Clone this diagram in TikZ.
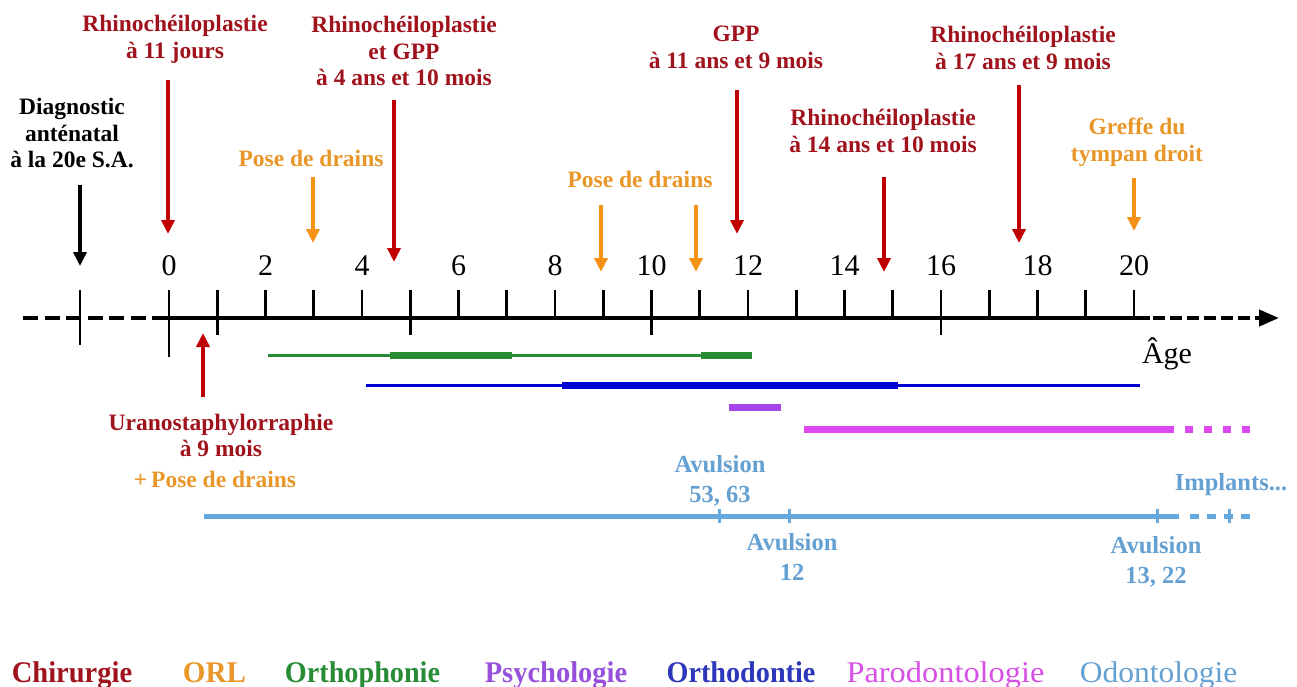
\documentclass[tikz,border=0pt]{standalone}
\usepackage{fontspec}
\setmainfont{Liberation Serif}
\usetikzlibrary{arrows.meta}
\definecolor{chir}{RGB}{160,18,28}
\definecolor{chirarr}{RGB}{192,0,0}
\definecolor{orl}{RGB}{232,150,40}
\definecolor{orlarr}{RGB}{245,145,20}
\definecolor{ortho}{RGB}{40,140,55}
\definecolor{psy}{RGB}{150,80,220}
\definecolor{psyline}{RGB}{165,70,235}
\definecolor{orthod}{RGB}{45,55,185}
\definecolor{orthodline}{RGB}{0,0,210}
\definecolor{paro}{RGB}{215,80,230}
\definecolor{paroline}{RGB}{222,72,240}
\definecolor{odonto}{RGB}{100,160,210}
\definecolor{odontoline}{RGB}{100,168,222}
\newcommand{\lablines}[1]{\begin{tabular}[t]{@{}c@{}}#1\end{tabular}}
\begin{document}
\begin{tikzpicture}[x=1pt,y=-1pt,
  lbl/.style={font=\bfseries\fontsize{23.5}{26.5}\selectfont, inner sep=0pt, anchor=base},
  odlbl/.style={font=\bfseries\fontsize{24.5}{30}\selectfont, inner sep=0pt, anchor=base, text=odonto},
  num/.style={font=\fontsize{30}{36}\selectfont, inner sep=0pt, anchor=base},
  leg/.style={font=\bfseries\fontsize{30}{34}\selectfont, inner sep=0pt, anchor=base},
  legreg/.style={font=\fontsize{30}{34}\selectfont, inner sep=0pt, anchor=base},
  evarrow/.style={line width=3.5pt, -{Triangle[width=13pt,length=14pt]}},
  tick/.style={line width=2.6pt, black},
  axisline/.style={line width=4pt, black},
  thinbar/.style={line width=3pt, line cap=butt},
  thickbar/.style={line width=7pt, line cap=butt}
]
\useasboundingbox (0,0) rectangle (1297,687);

% ---------------- axis ----------------
\draw[axisline] (152,318) -- (1150,318);
\draw[axisline, dash pattern=on 15pt off 6.5pt] (23,318) -- (150,318);
\draw[axisline, dash pattern=on 11.5pt off 5.5pt, -{Triangle[width=16pt,length=20pt]}] (1153,318) -- (1279,318);
\foreach \t in {0,...,20} \draw[tick] ({169+48.25*\t},290) -- ({169+48.25*\t},318);
\draw[tick] (169,318) -- (169,357);
\foreach \t in {1,5,10,16} \draw[tick] ({169+48.25*\t},318) -- ({169+48.25*\t},335);
\draw[tick] (80,290) -- (80,345);
\foreach \t in {0,2,...,20} \node[num] (n\t) at ({169+48.25*\t},275) {\t};
\node[num] (age) at (1167,363) {Âge};

% ---------------- top labels and arrows ----------------
\node[lbl, text=black] (diag) at (72,115) {\lablines{Diagnostic\\anténatal\\à la 20e S.A.}};
\coordinate (diagS) at (80,185); \coordinate (diagE) at (80,266);
\draw[evarrow, black] (diagS) -- (diagE);

\node[lbl, text=chir] (rh1) at (175,32) {\lablines{Rhinochéiloplastie\\à 11 jours}};
\coordinate (rh1S) at (168,80); \coordinate (rh1E) at (168,234);
\draw[evarrow, chirarr] (rh1S) -- (rh1E);

\node[lbl, text=orl] (pd1) at (311,167) {Pose de drains};
\coordinate (pd1S) at (313,177); \coordinate (pd1E) at (313,243);
\draw[evarrow, orlarr] (pd1S) -- (pd1E);

\node[lbl, text=chir] (rh2) at (404,33) {\lablines{Rhinochéiloplastie\\et GPP\\à 4 ans et 10 mois}};
\coordinate (rh2S) at (394,100); \coordinate (rh2E) at (394,262);
\draw[evarrow, chirarr] (rh2S) -- (rh2E);

\node[lbl, text=orl] (pd2) at (640,187) {Pose de drains};
\coordinate (pd2aS) at (601,205); \coordinate (pd2aE) at (601,272);
\coordinate (pd2bS) at (696,205); \coordinate (pd2bE) at (696,272);
\draw[evarrow, orlarr] (pd2aS) -- (pd2aE);
\draw[evarrow, orlarr] (pd2bS) -- (pd2bE);

\node[lbl, text=chir] (gpp) at (736,42) {\lablines{GPP\\à 11 ans et 9 mois}};
\coordinate (gppS) at (737,90); \coordinate (gppE) at (737,234);
\draw[evarrow, chirarr] (gppS) -- (gppE);

\node[lbl, text=chir] (rh3) at (883,126) {\lablines{Rhinochéiloplastie\\à 14 ans et 10 mois}};
\coordinate (rh3S) at (884,177); \coordinate (rh3E) at (884,272);
\draw[evarrow, chirarr] (rh3S) -- (rh3E);

\node[lbl, text=chir] (rh4) at (1023,43) {\lablines{Rhinochéiloplastie\\à 17 ans et 9 mois}};
\coordinate (rh4S) at (1019,85); \coordinate (rh4E) at (1019,243);
\draw[evarrow, chirarr] (rh4S) -- (rh4E);

\node[lbl, text=orl] (gref) at (1137,135) {\lablines{Greffe du\\tympan droit}};
\coordinate (grefS) at (1134,178); \coordinate (grefE) at (1134,231);
\draw[evarrow, orlarr] (grefS) -- (grefE);

% ---------------- bottom event ----------------
\coordinate (uraS) at (203,397); \coordinate (uraE) at (203,333);
\draw[evarrow, chirarr] (uraS) -- (uraE);
\node[lbl, text=chir] (ura) at (221,430) {\lablines{Uranostaphylorraphie\\à 9 mois}};
\node[lbl, text=orl] (urapd) at (215,487) {+\,Pose de drains};

% ---------------- bars ----------------
% Orthophonie
\draw[thinbar, ortho] (268,355) -- (751,355);
\draw[thickbar, ortho] (390,355) -- (512,355);
\draw[thickbar, ortho] (701,355) -- (752,355);
% Orthodontie
\draw[thinbar, orthodline] (366,385) -- (1140,385);
\draw[thickbar, orthodline] (562,385) -- (898,385);
% Psychologie
\draw[thickbar, psyline] (729,407) -- (781,407);
% Parodontologie
\draw[thickbar, paroline] (804,429) -- (1174,429);
\draw[thickbar, paroline, dash pattern=on 8pt off 11pt] (1185,429) -- (1252,429);
% Odontologie
\draw[line width=5pt, line cap=butt, odontoline] (204,516) -- (1179,516);
\draw[line width=5pt, line cap=butt, odontoline, dash pattern=on 9pt off 8pt] (1190,516) -- (1255,516);
\foreach \xx in {719,789,1157,1229} \draw[line width=3pt, odontoline] (\xx,509) -- (\xx,523);

\node[odlbl] (av1) at (720,472) {\lablines{Avulsion\\53, 63}};
\node[odlbl] (av2) at (792,550) {\lablines{Avulsion\\12}};
\node[odlbl] (av3) at (1156,553) {\lablines{Avulsion\\13, 22}};
\node[odlbl] (impl) at (1231,490) {Implants...};

% ---------------- legend ----------------
\node[leg, text=chir] (lg1) at (72,682) {\scalebox{0.95}[1]{Chirurgie}};
\node[leg, text=orl] (lg2) at (214.5,682) {\scalebox{0.97}[1]{ORL}};
\node[leg, text=ortho] (lg3) at (362.5,682) {\scalebox{0.94}[1]{Orthophonie}};
\node[leg, text=psy] (lg4) at (556,682) {\scalebox{0.95}[1]{Psychologie}};
\node[leg, text=orthod] (lg5) at (741,682) {\scalebox{0.94}[1]{Orthodontie}};
\node[legreg, text=paro] (lg6) at (945.5,682) {\scalebox{1.08}[1]{Parodontologie}};
\node[legreg, text=odonto] (lg7) at (1158.5,682) {\scalebox{1.05}[1]{Odontologie}};
\end{tikzpicture}
\end{document}
